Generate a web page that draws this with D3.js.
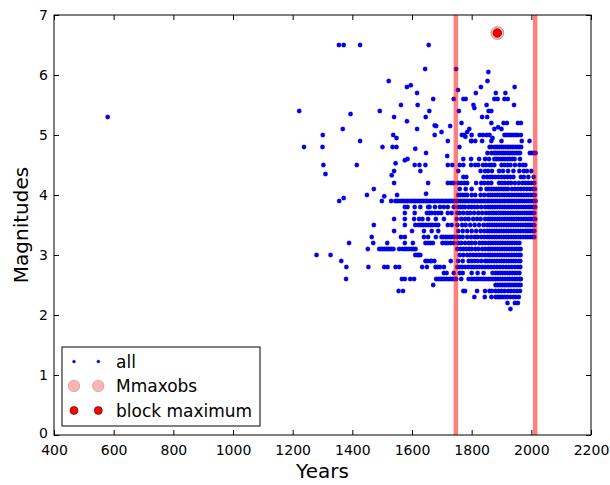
<!DOCTYPE html>
<html>
<head>
<meta charset="utf-8">
<script src="https://cdn.jsdelivr.net/npm/d3@7"></script>
<style>
  html, body { margin: 0; padding: 0; background: #fff; }
  svg { display: block; font-family: "DejaVu Sans", sans-serif; }
</style>
</head>
<body>
<svg id="chart" width="610" height="485"></svg>
<script>
// ---------------- DATA ----------------
const xTicks = [400, 600, 800, 1000, 1200, 1400, 1600, 1800, 2000, 2200];
const yTicks = [0, 1, 2, 3, 4, 5, 6, 7];
const windowYears = [1747, 2013];          // red vertical lines
const mmaxobs = [[1886, 6.7]];             // Mmaxobs point
const blockMaximum = [[1886, 6.7]];        // block maximum point
const legendLabels = ["all", "Mmaxobs", "block maximum"];

// isolated / off-grid events [year, magnitude]
const sparsePoints = [
  [580,5.3],[1222,5.4],[1238,4.8],[1301,5.0],[1300,4.8],[1303,4.5],[1310,4.35],
  [1355,6.5],[1371,6.5],[1426,6.5],[1356,3.9],[1371,3.95],[1368,5.1],[1394,5.35],
  [1415,4.5],[1426,4.9],[1449,4.0],[1472,4.1],[1492,5.4],[1501,4.8],[1507,3.98],
  [1522,5.9],[1535,4.8],[1537,5.0],[1540,5.3],[1540,4.4],[1532,4.33],[1540,4.2],
  [1545,4.53],[1548,4.95],[1548,4.8],[1550,4.0],[1563,5.5],[1576,4.58],[1583,5.8],
  [1583,5.23],[1585,4.6],[1596,5.83],[1609,4.5],[1611,4.77],[1617,5.7],[1619,5.5],
  [1617,5.1],[1625,4.5],[1628,4.4],[1645,4.5],[1646,5.3],[1647,4.7],[1647,4.02],
  [1658,5.4],[1656,6.5],[1644,6.1],[1654,4.2],[1671,5.6],[1676,5.0],[1676,5.16],
  [1681,5.15],[1699,5.05],[1720,4.9],[1718,4.65],[1728,5.15],[1731,4.2],[1740,5.6],
  [1748,6.1],[1754,5.75],[1757,5.4],[1759,4.8],[1766,5.2],[1767,5.0],[1772,5.6],
  [1775,5.0],[1779,4.97],[1785,5.05],[1780,5.6],[1792,5.1],[1798,4.9],[1806,5.5],
  [1809,5.45],[1814,5.7],[1831,5.8],[1835,5.3],[1853,5.9],[1856,6.05],[1850,5.5],
  [1857,5.4],[1866,5.4],[1881,5.7],[1876,5.6],[1887,5.6],[1913,5.7],[1910,5.6],
  [1921,5.6],[1907,5.2],[1918,5.2],[1944,5.8],[1942,5.5],[1955,5.2],[1965,5.2],
  [1876,5.1],[1889,5.13],[1866,5.2],[1852,5.3],[1870,4.95],[1900,5.1]
];

// events on the 0.1 magnitude grid: one list of years per magnitude
const rowMags = [2.1, 2.2, 2.3, 2.4, 2.5, 2.6, 2.7, 2.8, 2.9, 3.0, 3.1, 3.2, 3.3, 3.4,
                 3.5, 3.6, 3.7, 3.8, 3.9, 4.0, 4.1, 4.2, 4.3, 4.4, 4.5, 4.6, 4.7, 4.8, 4.9, 5.0];
const rowYears = [
  [1930],
  [1920, 1945, 1955],
  [1809, 1844, 1866, 1880, 1886, 1892, 1898, 1904, 1912, 1920, 1930, 1940, 1948, 1958],
  [1555, 1570, 1772, 1778, 1818, 1845, 1860, 1868, 1880, 1890, 1900, 1910, 1922, 1932, 1942, 1952, 1962],
  [1671, 1880, 1886, 1892, 1898, 1904, 1910, 1916, 1922, 1928, 1934, 1940, 1946, 1952, 1958, 1964],
  [1379, 1566, 1576, 1594, 1607, 1681, 1688, 1694, 1700, 1707, 1715, 1722, 1729, 1735, 1742, 1748,
   1765, 1790, 1800, 1808, 1816, 1824, 1832, 1840, 1848, 1856, 1864, 1872, 1880, 1888, 1896, 1904,
   1912, 1920, 1928, 1936, 1944, 1952, 1960, 1965],
  [1707, 1716, 1740, 1760, 1770, 1800, 1820, 1840, 1870, 1880, 1888, 1896, 1904, 1912, 1920, 1928,
   1936, 1944, 1952, 1960],
  [1380, 1454, 1507, 1518, 1545, 1557, 1634, 1650, 1679, 1686, 1694, 1707, 1752, 1760, 1768, 1778,
   1788, 1798, 1806, 1815, 1825, 1835, 1845, 1855, 1865, 1875, 1885, 1895, 1905, 1915, 1925, 1935,
   1945, 1955, 1963],
  [1363, 1645, 1652, 1662, 1665, 1675, 1730, 1755, 1770, 1790, 1800, 1810, 1820, 1832, 1845, 1852,
   1860, 1868, 1876, 1884, 1892, 1900, 1908, 1916, 1924, 1932, 1940, 1948, 1956, 1963],
  [1280, 1327, 1611, 1618, 1622, 1628, 1760, 1772, 1785, 1795, 1805, 1815, 1825, 1835, 1845, 1855,
   1862, 1870, 1878, 1886, 1894, 1902, 1910, 1918, 1926, 1934, 1942, 1950, 1958, 1964],
  [1452, 1490, 1496, 1502, 1508, 1514, 1520, 1526, 1532, 1538, 1557, 1567, 1576, 1582, 1590, 1598,
   1605, 1612, 1752, 1762, 1772, 1782, 1792, 1800, 1812, 1822, 1835, 1845, 1855, 1862, 1870, 1878,
   1886, 1894, 1902, 1910, 1918, 1926, 1934, 1942, 1950, 1958, 1964],
  [1389, 1470, 1517, 1576, 1603, 1645, 1654, 1662, 1670, 1702, 1712, 1720, 1730, 1740, 1755, 1765,
   1778, 1790, 1800, 1812, 1826, 1836, 1846, 1856, 1864, 1872, 1880, 1888, 1896, 1904, 1912, 1920,
   1928, 1936, 1944, 1952, 1960],
  [1465, 1563, 1576, 1640, 1654, 1680, 1699, 1706, 1713, 1720, 1727, 1734, 1741, 1752, 1760, 1770,
   1785, 1798, 1810, 1820, 1832, 1842, 1852, 1860, 1868, 1876, 1884, 1892, 1900, 1908, 1916, 1924,
   1932, 1940, 1948, 1956, 1964, 1972, 1980, 1988, 1996, 2003, 2010],
  [1540, 1600, 1640, 1666, 1688, 1755, 1770, 1785, 1800, 1815, 1830, 1842, 1852, 1860, 1868, 1876,
   1884, 1892, 1900, 1908, 1916, 1924, 1932, 1940, 1948, 1956, 1964, 1972, 1980, 1986, 1992, 1998,
   2004, 2010],
  [1472, 1576, 1611, 1622, 1630, 1638, 1646, 1654, 1662, 1670, 1680, 1688, 1720, 1733, 1752, 1768,
   1780, 1795, 1810, 1825, 1840, 1852, 1860, 1868, 1876, 1884, 1892, 1900, 1908, 1916, 1924, 1932,
   1940, 1948, 1956, 1964, 1972, 1980, 1986, 1992, 1998, 2004, 2010],
  [1540, 1576, 1607, 1624, 1635, 1654, 1680, 1707, 1750, 1765, 1778, 1790, 1805, 1818, 1830, 1845,
   1855, 1862, 1870, 1878, 1886, 1894, 1902, 1910, 1918, 1926, 1934, 1942, 1950, 1958, 1966, 1975,
   1982, 1990, 1996, 2002, 2008, 2013],
  [1576, 1609, 1650, 1658, 1666, 1677, 1688, 1698, 1720, 1733, 1752, 1760, 1772, 1785, 1795, 1808,
   1822, 1835, 1848, 1858, 1866, 1874, 1882, 1890, 1898, 1906, 1914, 1922, 1930, 1938, 1946, 1954,
   1962, 1970, 1978, 1985, 1992, 1998, 2004, 2010],
  [1576, 1585, 1609, 1628, 1654, 1659, 1677, 1694, 1707, 1720, 1740, 1755, 1762, 1770, 1778, 1790,
   1800, 1810, 1820, 1832, 1845, 1855, 1862, 1870, 1878, 1886, 1894, 1902, 1910, 1918, 1926, 1934,
   1942, 1950, 1958, 1966, 1974, 1982, 1990, 1996, 2002, 2008, 2013],
  [1499, 1530, 1544, 1552, 1560, 1567, 1573, 1580, 1586, 1593, 1599, 1606, 1612, 1619, 1625, 1632,
   1638, 1645, 1651, 1658, 1664, 1671, 1677, 1684, 1690, 1697, 1703, 1710, 1716, 1723, 1729, 1736,
   1742, 1749, 1755, 1762, 1768, 1775, 1781, 1788, 1794, 1801, 1807, 1814, 1820, 1827, 1833, 1840,
   1846, 1853, 1859, 1866, 1872, 1879, 1885, 1892, 1898, 1905, 1911, 1918, 1924, 1931, 1937, 1944,
   1950, 1957, 1963, 1970, 1976, 1983, 1989, 1996, 2002, 2008, 2014],
  [1755, 1762, 1770, 1778, 1785, 1800, 1812, 1830, 1842, 1855, 1862, 1870, 1878, 1886, 1894, 1902,
   1910, 1918, 1926, 1934, 1942, 1950, 1958, 1966, 1974, 1982, 1990, 1998, 2005, 2012],
  [1760, 1780, 1800, 1830, 1850, 1858, 1866, 1874, 1882, 1890, 1898, 1906, 1914, 1922, 1935, 1945,
   1955, 1965, 1975, 1985, 1995, 2005, 2012],
  [1720, 1740, 1755, 1765, 1775, 1785, 1815, 1832, 1843, 1855, 1866, 1892, 1902, 1912, 1922, 1932,
   1945, 1958, 1970, 1980, 1990, 2000, 2010],
  [1772, 1782, 1840, 1852, 1862, 1870, 1880, 1890, 1900, 1910, 1920, 1930, 1940, 1965, 1975, 1990, 2008],
  [1755, 1830, 1845, 1855, 1868, 1892, 1905, 1922, 1940, 1960, 1975, 1985, 2000],
  [1720, 1735, 1760, 1772, 1798, 1812, 1822, 1838, 1848, 1860, 1868, 1876, 1900, 1910, 1920, 1930,
   1945, 1960, 1972, 1980],
  [1772, 1798, 1825, 1845, 1858, 1876, 1883, 1890, 1898, 1905, 1912, 1920, 1928, 1936, 1944, 1962],
  [1853, 1866, 1874, 1880, 1887, 1893, 1900, 1906, 1912, 1919, 1925, 1931, 1937, 1943, 1950, 1956,
   1962, 1995, 2001, 2008, 2014],
  [1860, 1866, 1876, 1882, 1888, 1894, 1900, 1906, 1912, 1918, 1924, 1930, 1936, 1942, 1948, 1954,
   1960, 1966],
  [1800, 1812, 1835, 1866, 1900, 1968, 1994],
  [1800, 1827, 1838, 1850, 1860, 1910, 1918, 1925, 1932, 1940, 1948, 1955, 1965]
];

// ---------------- CHART ----------------
const svg = d3.select("#chart");
const pLeft = 54, pRight = 591, pTop = 15, pBottom = 435;
const x = d3.scaleLinear().domain([400, 2200]).range([pLeft, pRight]);
const y = d3.scaleLinear().domain([0, 7]).range([pBottom, pTop]);

const allPoints = sparsePoints.map(d => ({year: d[0], mag: d[1]}));
rowMags.forEach((m, i) => rowYears[i].forEach(yr => allPoints.push({year: yr, mag: m})));

const plot = svg.append("g");

// all events
plot.selectAll("circle.all").data(allPoints).enter().append("circle")
  .attr("class", "all")
  .attr("cx", d => x(d.year)).attr("cy", d => y(d.mag)).attr("r", 2.2)
  .attr("fill", "#0000ff").attr("stroke", "#00009a").attr("stroke-width", 0.3);

// Mmaxobs
plot.selectAll("circle.mmax").data(mmaxobs).enter().append("circle")
  .attr("cx", d => x(d[0])).attr("cy", d => y(d[1])).attr("r", 6.5)
  .attr("fill", "rgba(255,0,0,0.3)").attr("stroke", "rgba(0,0,0,0.35)").attr("stroke-width", 0.7);

// block maximum
plot.selectAll("circle.bmax").data(blockMaximum).enter().append("circle")
  .attr("cx", d => x(d[0])).attr("cy", d => y(d[1])).attr("r", 4.3)
  .attr("fill", "#ff0000").attr("stroke", "#400").attr("stroke-width", 0.6);

// window lines
plot.selectAll("line.win").data(windowYears).enter().append("line")
  .attr("x1", d => x(d)).attr("x2", d => x(d)).attr("y1", pTop).attr("y2", pBottom)
  .attr("stroke", "#ff0000").attr("stroke-opacity", 0.5).attr("stroke-width", 4.5);

// axes (inward ticks on all sides)
const fmt = d3.format("d");
const gx = svg.append("g").attr("transform", `translate(0,${pBottom})`)
  .call(d3.axisBottom(x).tickValues(xTicks).tickFormat(fmt).tickSize(-5).tickPadding(10));
const gy = svg.append("g").attr("transform", `translate(${pLeft},0)`)
  .call(d3.axisLeft(y).tickValues(yTicks).tickFormat(fmt).tickSize(-5).tickPadding(6));
const gt = svg.append("g").attr("transform", `translate(0,${pTop})`)
  .call(d3.axisTop(x).tickValues(xTicks).tickFormat("").tickSize(-5));
const gr = svg.append("g").attr("transform", `translate(${pRight},0)`)
  .call(d3.axisRight(y).tickValues(yTicks).tickFormat("").tickSize(-5));
[gx, gy, gt, gr].forEach(g => {
  g.select(".domain").remove();
  g.selectAll(".tick line").attr("stroke", "#000").attr("stroke-width", 1);
  g.selectAll(".tick text").attr("fill", "#000").attr("font-size", 14)
    .attr("font-family", "DejaVu Sans, sans-serif");
});
// lift the "0" label slightly so it clears the "400" label below it
gy.selectAll(".tick text").filter(d => d === 0).attr("dy", "0.18em");

// frame
svg.append("rect").attr("x", pLeft).attr("y", pTop)
  .attr("width", pRight - pLeft).attr("height", pBottom - pTop)
  .attr("fill", "none").attr("stroke", "#000").attr("stroke-width", 1);

// axis titles
svg.append("text").attr("x", (pLeft + pRight) / 2).attr("y", 478)
  .attr("text-anchor", "middle").attr("font-size", 20).attr("fill", "#000").text("Years");
svg.append("text").attr("transform", `translate(27.5,${(pTop + pBottom) / 2}) rotate(-90)`)
  .attr("text-anchor", "middle").attr("font-size", 20).attr("fill", "#000").text("Magnitudes");

// legend
const lg = svg.append("g");
lg.append("rect").attr("x", 62).attr("y", 347).attr("width", 198).attr("height", 79)
  .attr("fill", "#fff").attr("stroke", "#000").attr("stroke-width", 1);
const legendRows = [361.5, 386, 410.5];
const markerX = [74, 98.3];
legendRows.forEach((ry, i) => {
  markerX.forEach(mx => {
    if (i === 0) {
      lg.append("circle").attr("cx", mx).attr("cy", ry).attr("r", 1.5)
        .attr("fill", "#0000ff").attr("stroke", "#00009a").attr("stroke-width", 0.3);
    } else if (i === 1) {
      lg.append("circle").attr("cx", mx).attr("cy", ry).attr("r", 5.8)
        .attr("fill", "rgba(255,0,0,0.3)").attr("stroke", "rgba(0,0,0,0.3)").attr("stroke-width", 0.6);
    } else {
      lg.append("circle").attr("cx", mx).attr("cy", ry).attr("r", 4)
        .attr("fill", "#ff0000").attr("stroke", "#400").attr("stroke-width", 0.6);
    }
  });
  lg.append("text").attr("x", 116).attr("y", ry + 6).attr("font-size", 17)
    .attr("fill", "#000").text(legendLabels[i]);
});
</script>
</body>
</html>
